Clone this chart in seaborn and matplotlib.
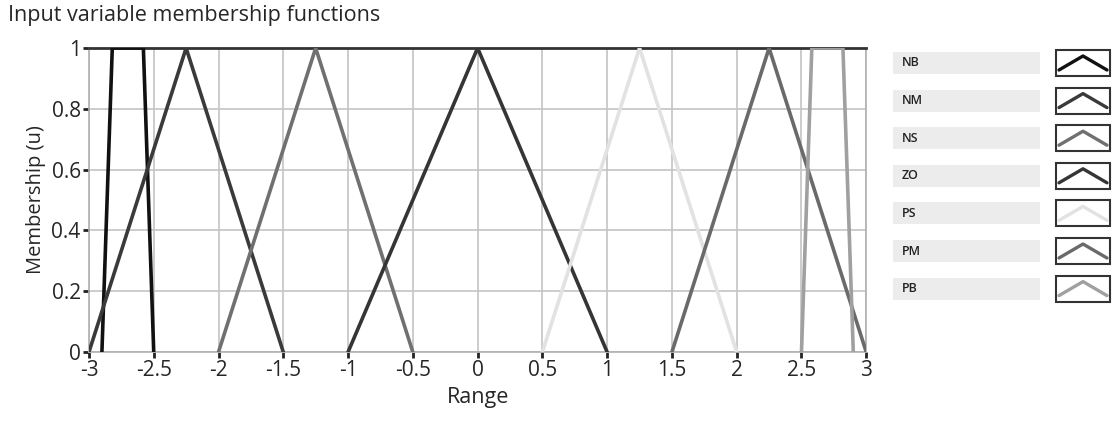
import matplotlib
matplotlib.use("Agg")
import matplotlib.pyplot as plt
import seaborn as sns
import pandas as pd
from matplotlib.patches import Rectangle

# membership function names and their break points (x) with membership (y)
names = ["NB", "NM", "NS", "ZO", "PS", "PM", "PB"]
nb_x = [-2.9, -2.82, -2.58, -2.5]
nm_x = [-3.0, -2.25, -1.5]
ns_x = [-2.0, -1.25, -0.5]
zo_x = [-1.0, 0.0, 1.0]
ps_x = [0.5, 1.25, 2.0]
pm_x = [1.5, 2.25, 3.0]
pb_x = [2.5, 2.58, 2.82, 2.9]
trap_y = [0, 1, 1, 0]
tri_y = [0, 1, 0]

colors = {"NB": "#111111", "NM": "#3a3a3a", "NS": "#707070", "ZO": "#353535",
          "PS": "#e2e2e2", "PM": "#6a6a6a", "PB": "#a0a0a0"}

xs = [nb_x, nm_x, ns_x, zo_x, ps_x, pm_x, pb_x]
ys = [trap_y, tri_y, tri_y, tri_y, tri_y, tri_y, trap_y]
rows = []
for n, xv, yv in zip(names, xs, ys):
    for i, (a, b) in enumerate(zip(xv, yv)):
        rows.append({"name": n, "x": a, "y": b, "order": i})
df = pd.DataFrame(rows)

sns.set_style("white")
plt.rcParams['font.family'] = ['Open Sans', 'DejaVu Sans']

fig = plt.figure(figsize=(11.12, 4.33), dpi=100)
ax = fig.add_axes([0.080, 0.187, 0.699, 0.702])

# draw each function separately so lines are not merged
for n in names:
    sub = df[df["name"] == n]
    sns.lineplot(data=sub, x="x", y="y", sort=False, estimator=None,
                 color=colors[n], lw=2.6, ax=ax, legend=False, zorder=3)

ax.set_xlim(-3, 3)
ax.set_ylim(0, 1)
xticks = [-3, -2.5, -2, -1.5, -1, -0.5, 0, 0.5, 1, 1.5, 2, 2.5, 3]
yticks = [0, 0.2, 0.4, 0.6, 0.8, 1]
ax.set_xticks(xticks)
ax.set_xticklabels([f"{t:g}" for t in xticks])
ax.set_yticks(yticks)
ax.set_yticklabels([f"{t:g}" for t in yticks])
ax.grid(True, color="#c4c4c4", lw=1.2)
ax.tick_params(direction="out", length=4, width=2, color="#222222",
               labelsize=15, pad=2, left=True, bottom=True)
for s in ["left", "right", "bottom"]:
    ax.spines[s].set_color("#b0b0b0")
    ax.spines[s].set_linewidth(1.2)
ax.spines["top"].set_color("#333333")
ax.spines["top"].set_linewidth(2)
ax.set_xlabel("Range", fontsize=15.5, labelpad=4)
ax.set_ylabel("Membership (u)", fontsize=14.5, labelpad=4)

fig.text(0.007, 0.965, "Input variable membership functions", fontsize=15.5,
         va="center", ha="left")

# legend panel on the right, in figure pixel coordinates
W, H = 1112, 433
for i, n in enumerate(names):
    yc = 63 + i * 37.6
    fig.patches.append(Rectangle((893 / W, 1 - (yc + 11) / H), 147 / W, 22 / H,
                                 transform=fig.transFigure, facecolor="#ececec",
                                 edgecolor="none"))
    fig.text(902 / W, 1 - yc / H, n, fontsize=9, va="center", ha="left",
             color="#222222", fontweight="semibold")
    fig.patches.append(Rectangle((1056 / W, 1 - (yc + 13) / H), 54 / W, 26 / H,
                                 transform=fig.transFigure, facecolor="white",
                                 edgecolor="#333333", lw=1.5))
    fig.lines.append(plt.Line2D([1059 / W, 1083 / W, 1107 / W],
                                [1 - (yc + 7) / H, 1 - (yc - 7) / H, 1 - (yc + 7) / H],
                                transform=fig.transFigure, color=colors[n], lw=2.4))

fig.savefig("out.png", dpi=100)
